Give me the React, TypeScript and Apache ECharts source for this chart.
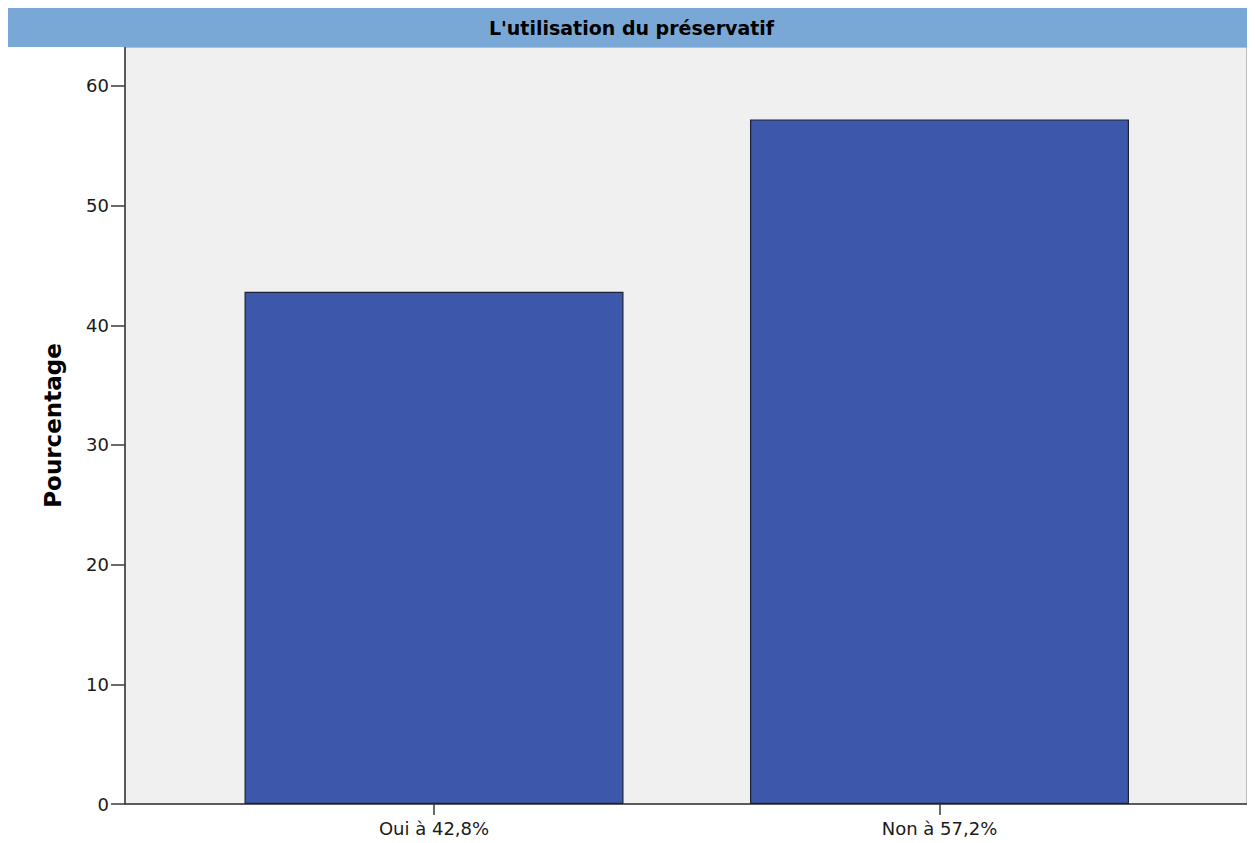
import React, { useEffect, useRef } from "react";
import * as echarts from "echarts";

// Chart content
const chartTitle = "L'utilisation du préservatif";
const yAxisTitle = "Pourcentage";
const categories = ["Oui à 42,8%", "Non à 57,2%"];
const percentages = [42.8, 57.2];
const yTicks = [0, 10, 20, 30, 40, 50, 60];
const yMax = 63.25;

const W = 1247;
const H = 835;

export default function App() {
  const ref = useRef<HTMLDivElement>(null);

  useEffect(() => {
    if (!ref.current) return;
    const chart = echarts.init(ref.current, undefined, { renderer: "svg" });
    const font = "DejaVu Sans, Verdana, sans-serif";
    const axisColor = "#3a3a3a";

    chart.setOption({
      animation: false,
      backgroundColor: "#ffffff",
      graphic: [
        {
          type: "rect",
          shape: { x: 0, y: 0, width: W, height: 39 },
          style: { fill: "#7AA8D6" },
          z: 10,
        },
        {
          type: "text",
          x: W / 2,
          y: 20,
          style: {
            text: chartTitle,
            fill: "#000000",
            font: `bold 19px ${font}`,
            textAlign: "center",
            textVerticalAlign: "middle",
          },
          z: 11,
        },
      ],
      grid: [
        {
          // plotting frame with the grey background
          left: 117,
          right: 8,
          top: 39,
          bottom: 39,
          show: true,
          backgroundColor: "#F0F0F0",
          borderColor: "#8a8a8a",
          borderWidth: 1,
        },
        {
          // bar area
          left: 173.25,
          right: 62.75,
          top: 39,
          bottom: 39,
        },
      ],
      xAxis: [
        {
          gridIndex: 0,
          type: "value",
          min: 0,
          max: 1,
          axisLine: { show: true, lineStyle: { color: axisColor, width: 1.5 } },
          axisTick: { show: false },
          axisLabel: { show: false },
          splitLine: { show: false },
        },
        {
          gridIndex: 1,
          type: "category",
          data: categories,
          axisLine: { show: false },
          axisTick: {
            show: true,
            alignWithLabel: true,
            length: 11,
            lineStyle: { color: axisColor, width: 1.5 },
          },
          axisLabel: {
            color: "#1a1a1a",
            fontFamily: font,
            fontSize: 18,
            margin: 15,
          },
        },
      ],
      yAxis: [
        {
          gridIndex: 0,
          type: "value",
          min: 0,
          max: yMax,
          interval: 10,
          name: yAxisTitle,
          nameLocation: "middle",
          nameRotate: 90,
          nameGap: 61,
          nameTextStyle: {
            color: "#000000",
            fontFamily: font,
            fontWeight: "bold",
            fontSize: 23,
          },
          axisLine: { show: true, lineStyle: { color: axisColor, width: 1.5 } },
          axisTick: {
            show: true,
            length: 14,
            customValues: yTicks,
            lineStyle: { color: axisColor, width: 1.5 },
          },
          axisLabel: {
            customValues: yTicks,
            color: "#1a1a1a",
            fontFamily: font,
            fontSize: 18,
            margin: 16,
          },
          splitLine: { show: false },
        },
        {
          gridIndex: 1,
          type: "value",
          min: 0,
          max: yMax,
          show: false,
          splitLine: { show: false },
        },
      ],
      series: [
        {
          type: "bar",
          xAxisIndex: 1,
          yAxisIndex: 1,
          data: percentages,
          barWidth: 379,
          itemStyle: {
            color: "#3D58AB",
            borderColor: "#1c2233",
            borderWidth: 1.2,
          },
          z: 3,
        },
      ],
    });

    return () => chart.dispose();
  }, []);

  return <div ref={ref} style={{ width: W, height: H }} />;
}
